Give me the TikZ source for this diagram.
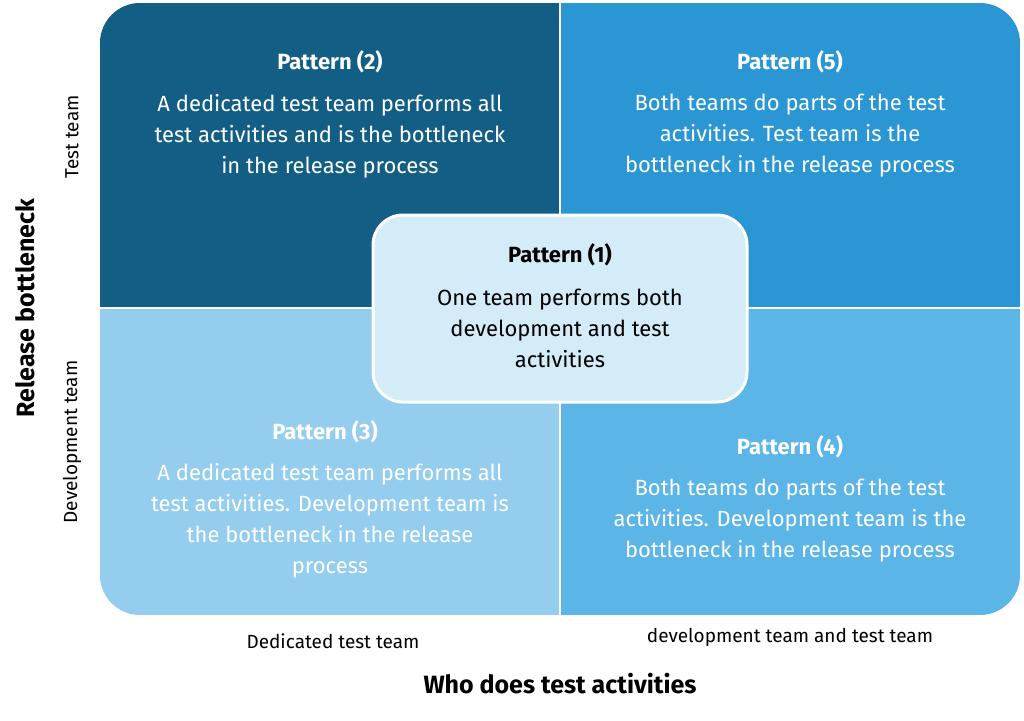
\documentclass[tikz,border=0pt]{standalone}
\usepackage{fontspec}
\setmainfont{Fira Sans}
\usetikzlibrary{positioning}
\definecolor{qdark}{HTML}{135E85}
\definecolor{qmid}{HTML}{2A96D4}
\definecolor{qlight}{HTML}{94CDEE}
\definecolor{qsky}{HTML}{5BB5E6}
\definecolor{qcentre}{HTML}{D4EBF8}
\tikzset{
  head/.style={font=\fontsize{22}{26}\selectfont\bfseries, text=white},
  body/.style={font=\fontsize{22}{31}\selectfont, align=center, text=white},
  axis/.style={font=\fontsize{19}{22}\selectfont},
  title/.style={font=\fontsize{25}{28}\selectfont\bfseries}
}
\begin{document}
\begin{tikzpicture}[x=1pt,y=-1pt]
  \useasboundingbox (0,0) rectangle (1024,720);
  % quadrants
  \begin{scope}
    \clip[rounded corners=40] (100,3) rectangle (1020,615);
    \fill[qdark] (100,3) rectangle (560,308);
    \fill[qmid] (560,3) rectangle (1020,308);
    \fill[qlight] (100,308) rectangle (560,615);
    \fill[qsky] (560,308) rectangle (1020,615);
  \end{scope}
  \draw[white, line width=2] (560,3) -- (560,615);
  \draw[white, line width=2] (100,308) -- (1020,308);
  % centre box
  \draw[white, line width=3, fill=qcentre, rounded corners=30] (373,215) rectangle (747,402);
  % texts
  \node[head] (p2) at (330,62) {Pattern (2)};
  \node[body] (t2) at (330,136) {A dedicated test team performs all\\test activities and is the bottleneck\\in the release process};
  \node[head] (p5) at (790,62) {Pattern (5)};
  \node[body] (t5) at (790,136) {Both teams do parts of the test\\activities. Test team is the\\bottleneck in the release process};
  \node[head, text=black] (p1) at (560,255) {Pattern (1)};
  \node[body, text=black] (t1) at (560,328) {One team performs both\\development and test\\activities};
  \node[head] (p3) at (325,432) {Pattern (3)};
  \node[body] (t3) at (330,521) {A dedicated test team performs all\\test activities. Development team is\\the bottleneck in the release\\process};
  \node[head] (p4) at (790,447) {Pattern (4)};
  \node[body] (t4) at (790,521) {Both teams do parts of the test\\activities. Development team is the\\bottleneck in the release process};
  % axes
  \node[axis, rotate=90] (ytop) at (72,137) {Test team};
  \node[axis, rotate=90] (ybot) at (72,442) {Development team};
  \node[title, rotate=90] (ytitle) at (25,308) {Release bottleneck};
  \node[axis] (xleft) at (333,641) {Dedicated test team};
  \node[axis] (xright) at (790,637) {development team and test team};
  \node[title] (xtitle) at (560,684) {Who does test activities};
\end{tikzpicture}
\end{document}
